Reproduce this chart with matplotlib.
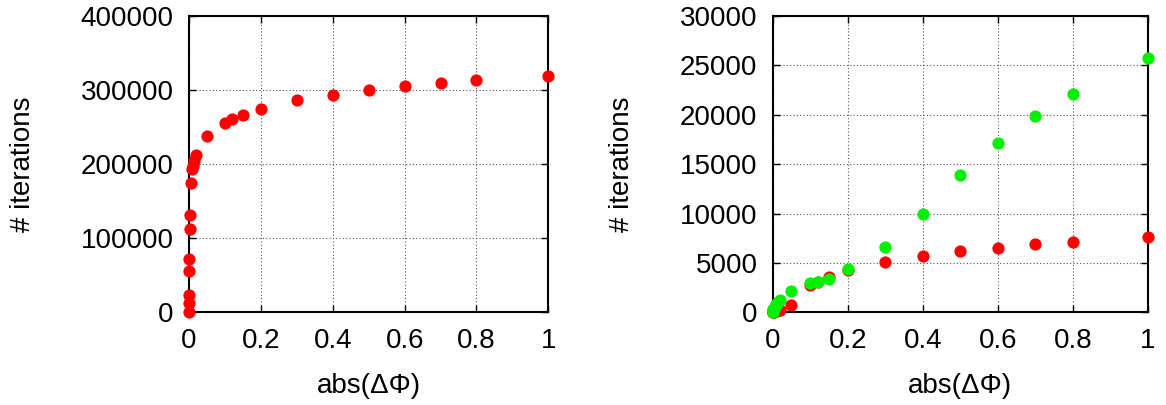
import numpy as np
import matplotlib
matplotlib.use("Agg")
import matplotlib.pyplot as plt

plt.rcParams['font.family'] = ['Liberation Sans', 'DejaVu Sans']

# abs(delta Phi) values, shared by both panels
dphi = [0, 0.0001, 0.0002, 0.0005, 0.001, 0.002, 0.003, 0.005, 0.008, 0.01,
        0.015, 0.02, 0.05, 0.1, 0.12, 0.15, 0.2, 0.3, 0.4, 0.5, 0.6, 0.7,
        0.8, 1.0]

# left panel: iterations (red)
iters_left = [0, 12000, 23000, 55500, 72000, 113000, 132000, 175000, 193000,
              198000, 204000, 213000, 238000, 256000, 261000, 267000, 275000,
              286000, 294000, 300000, 305000, 309000, 313000, 319000]

# right panel: two series
iters_red = [5, 10, 15, 25, 40, 60, 80, 110, 150, 180, 220, 270, 710, 2750,
             3080, 3590, 4270, 5120, 5730, 6200, 6540, 6880, 7150, 7600]
iters_green = [30, 60, 100, 150, 220, 300, 380, 520, 700, 880, 1050, 1250,
               2200, 2920, 3080, 3420, 4400, 6610, 9930, 13900, 17150, 19860,
               22070, 25700]

xticks = [0, 0.2, 0.4, 0.6, 0.8, 1]
xticklabels = ['0', '0.2', '0.4', '0.6', '0.8', '1']

fig = plt.figure(figsize=(11.66, 4.05), dpi=100)
ax1 = fig.add_axes([0.1621, 0.2289, 0.3082, 0.7316])
ax2 = fig.add_axes([0.6627, 0.2289, 0.3219, 0.7316])


def style(ax, ymax, ystep):
    ax.set_xlim(0, 1)
    ax.set_ylim(0, ymax)
    ax.set_xticks(xticks)
    ax.set_xticklabels(xticklabels)
    ax.set_yticks(np.arange(0, ymax + 1, ystep))
    ax.tick_params(direction='in', length=5, width=1, top=True, right=True,
                   labelsize=20, pad=11, colors='black')
    ax.grid(True, color='#555555', linestyle=(0, (1, 2)), linewidth=0.8)
    for s in ax.spines.values():
        s.set_linewidth(1.5)
        s.set_zorder(2)
    ax.set_xlabel('abs(\u0394\u03a6)', fontsize=20, labelpad=14)
    ax.set_ylabel('# iterations', fontsize=20, labelpad=32)


style(ax1, 400000, 100000)
ax1.plot(dphi, iters_left, 'o', color='#ff0000', markersize=8.8,
         markeredgewidth=0, clip_on=False, zorder=3)

style(ax2, 30000, 5000)
ax2.plot(dphi, iters_red, 'o', color='#ff0000', markersize=8.8,
         markeredgewidth=0, clip_on=False, zorder=3)
ax2.plot(dphi, iters_green, 'o', color='#00f000', markersize=8.8,
         markeredgewidth=0, clip_on=False, zorder=4)

fig.savefig('out.png', dpi=100)
